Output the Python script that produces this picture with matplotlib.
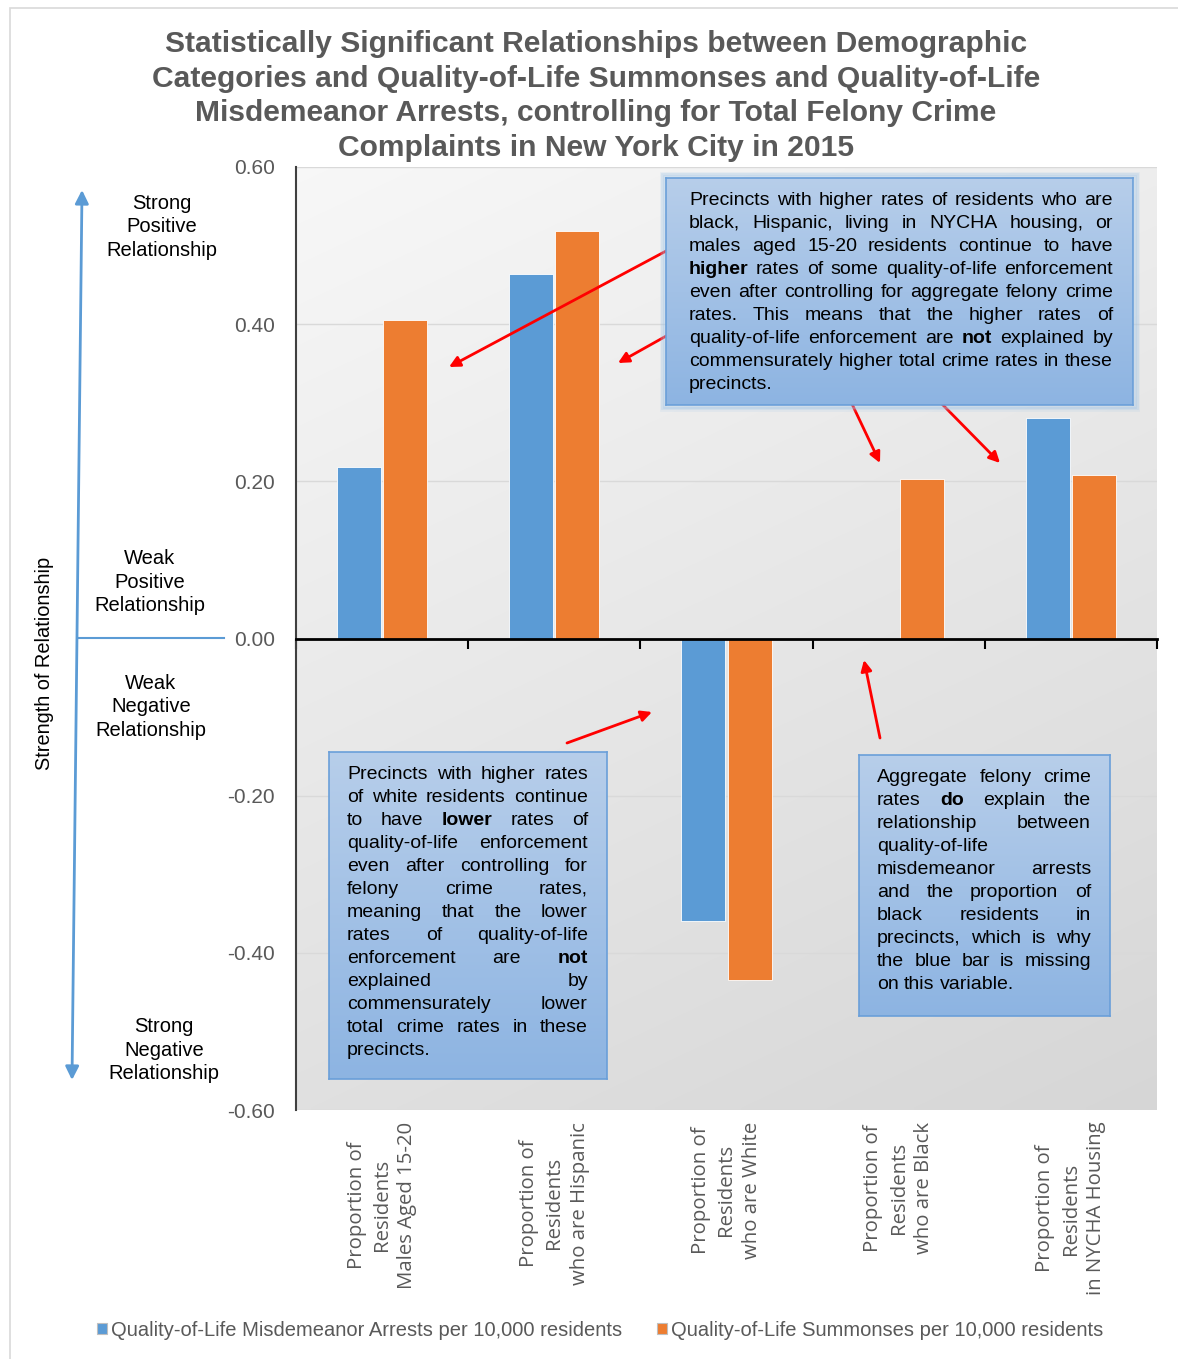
import numpy as np
import matplotlib
matplotlib.use("Agg")
import matplotlib.pyplot as plt
from matplotlib.patches import Rectangle

# ---------------- data ----------------
categories = [
    "Proportion of\nResidents\nMales Aged 15-20",
    "Proportion of\nResidents\nwho are Hispanic",
    "Proportion of\nResidents\nwho are White",
    "Proportion of\nResidents\nwho are Black",
    "Proportion of\nResidents\nin NYCHA Housing",
]
arrests = [0.218, 0.464, -0.359, np.nan, 0.280]
summonses = [0.405, 0.518, -0.434, 0.203, 0.208]
series_names = ["Quality-of-Life Misdemeanor Arrests per 10,000 residents",
                "Quality-of-Life Summonses per 10,000 residents"]
yticks = [-0.6, -0.4, -0.2, 0.0, 0.2, 0.4, 0.6]
title = ("Statistically Significant Relationships between Demographic\n"
         "Categories and Quality-of-Life Summonses and Quality-of-Life\n"
         "Misdemeanor Arrests, controlling for Total Felony Crime\n"
         "Complaints in New York City in 2015")

box1_lines = [
    "Precincts with higher rates of residents who are",
    "black, Hispanic, living in NYCHA housing, or",
    "males aged 15-20 residents continue to have",
    "**higher** rates of some quality-of-life enforcement",
    "even after controlling for aggregate felony crime",
    "rates. This means that the higher rates of",
    "quality-of-life enforcement are **not** explained by",
    "commensurately higher total crime rates in these",
    "precincts.",
]
box2_lines = [
    "Precincts with higher rates",
    "of white residents continue",
    "to have **lower** rates of",
    "quality-of-life enforcement",
    "even after controlling for",
    "felony crime rates,",
    "meaning that the lower",
    "rates of quality-of-life",
    "enforcement are **not**",
    "explained by",
    "commensurately lower",
    "total crime rates in these",
    "precincts.",
]
box3_lines = [
    "Aggregate felony crime",
    "rates **do** explain the",
    "relationship between",
    "quality-of-life",
    "misdemeanor arrests",
    "and the proportion of",
    "black residents in",
    "precincts, which is why",
    "the blue bar is missing",
    "on this variable.",
]

# ---------------- figure ----------------
W, H = 1178, 1359
fig = plt.figure(figsize=(W / 100, H / 100), dpi=100)
plt.rcParams['font.family'] = ['Liberation Sans', 'DejaVu Sans']

def fx(px):
    return px / W

def fy(py):
    return 1 - py / H

GRAY = "#595959"
BLUE = "#5b9bd5"
ORANGE = "#ed7d31"

# outer frame
fig.patches.append(Rectangle((fx(10), -0.01), 1.0, fy(8) + 0.01, transform=fig.transFigure,
                             fill=False, edgecolor="#d9d9d9", lw=1.2, zorder=0))

ax = fig.add_axes([fx(296), fy(1110), fx(1157) - fx(296), fy(167) - fy(1110)])
ax.set_zorder(1)

# gradient background (light at top, darker towards bottom-right)
ny, nx = 200, 200
yy, xx = np.mgrid[0:1:ny * 1j, 0:1:nx * 1j]
grad = 0.97 - 0.13 * (0.7 * yy + 0.3 * xx)
ax.imshow(np.dstack([grad, grad, grad]), extent=[-0.5, 4.5, -0.6, 0.6], origin="upper",
          aspect="auto", zorder=0, interpolation="bilinear")

x = np.arange(len(categories))
w = 0.256
ax.bar(x - w / 2 - 0.006, arrests, w, color=BLUE, edgecolor="white", linewidth=0.6, zorder=3,
       label=series_names[0])
ax.bar(x + w / 2 + 0.006, summonses, w, color=ORANGE, edgecolor="white", linewidth=0.6, zorder=3,
       label=series_names[1])

ax.set_xlim(-0.5, 4.5)
ax.set_ylim(-0.6, 0.6)
ax.set_yticks(yticks)
ax.set_yticklabels([f"{v:.2f}" for v in yticks], color=GRAY, fontsize=15)
ax.tick_params(axis="y", length=0, pad=15)
ax.grid(axis="y", color="#d9d9d9", lw=1, zorder=1)
ax.set_axisbelow(True)
for s in ["top", "right"]:
    ax.spines[s].set_visible(False)
ax.spines["left"].set_color("#404040")
ax.spines["left"].set_linewidth(1.5)
ax.spines["bottom"].set_position(("data", 0))
ax.spines["bottom"].set_color("black")
ax.spines["bottom"].set_linewidth(2)
ax.spines["bottom"].set_zorder(4)
ax.set_xticks(np.arange(-0.5, 5.0, 1.0))
ax.set_xticklabels([])
ax.tick_params(axis="x", direction="out", length=7, width=1.5, color="black")

for i, lab in enumerate(categories):
    ax.text(i, -0.615, lab, rotation=90, ha="center", va="top", multialignment="center",
            fontsize=14.7, color=GRAY, family=["Open Sans", "DejaVu Sans"], linespacing=1.36)

# legend
leg = fig.legend(loc="center", bbox_to_anchor=(fx(600), fy(1330)), ncol=2, frameon=False,
                 handlelength=0.5, handleheight=0.5, handletextpad=0.2, columnspacing=1.7,
                 fontsize=14.5)
for t in leg.get_texts():
    t.set_color(GRAY)
for hnd in leg.legend_handles:
    hnd.set_edgecolor("#bfbfbf")
    hnd.set_linewidth(0.8)

# title
fig.text(fx(596), fy(96), title, ha="center", va="center", fontsize=21.6, fontweight="bold",
         color=GRAY, linespacing=1.3)

# y label and left annotations
fig.text(fx(45), fy(663), "Strength of Relationship", rotation=90, ha="center", va="center",
         fontsize=14.4, color="black")
for txt, cx, cy in [("Strong\nPositive\nRelationship", 162, 227),
                    ("Weak\nPositive\nRelationship", 150, 582),
                    ("Weak\nNegative\nRelationship", 151, 707),
                    ("Strong\nNegative\nRelationship", 164, 1050)]:
    fig.text(fx(cx), fy(cy), txt, ha="center", va="center", fontsize=14.5, color="black",
             linespacing=1.31)

def fig_arrow(x0, y0, x1, y1, color, style="-|>", lw=2, ms=18, z=2):
    fig.add_artist(matplotlib.patches.FancyArrowPatch(
        (fx(x0), fy(y0)), (fx(x1), fy(y1)), transform=fig.transFigure,
        arrowstyle=style, color=color, lw=lw, mutation_scale=ms, zorder=z,
        shrinkA=0, shrinkB=0))

# blue strength arrow
fig_arrow(82, 190, 72, 1080, BLUE, style="<|-|>", lw=2, ms=20)
fig.add_artist(matplotlib.lines.Line2D([fx(78), fx(224)], [fy(638), fy(638)], color=BLUE, lw=1.5,
                                       transform=fig.transFigure))

# red arrows
for (a, b, c, d) in [(668, 250, 449, 367), (668, 335, 618, 363), (852, 404, 880, 463),
                     (940, 402, 1000, 463), (567, 743, 652, 712), (880, 738, 864, 660)]:
    fig_arrow(a, b, c, d, "red", lw=2, ms=16, z=2)

# text boxes
def make_box(x0, y0, x1, y1, glow=False):
    if glow:
        for k, a in [(5, 0.15), (3.5, 0.25), (2, 0.4)]:
            fig.patches.append(Rectangle((fx(x0 - k), fy(y1 + k)), fx(x1 - x0 + 2 * k),
                                         (y1 - y0 + 2 * k) / H,
                                         transform=fig.transFigure, fill=False,
                                         edgecolor="#9dc3e6", lw=2, alpha=a, zorder=2.8))
    bax = fig.add_axes([fx(x0), fy(y1), fx(x1) - fx(x0), fy(y0) - fy(y1)])
    bax.set_zorder(3)
    g = np.linspace(0, 1, 100)[:, None]
    top = np.array([0.718, 0.808, 0.918])
    bot = np.array([0.553, 0.706, 0.886])
    img = top[None, None, :] * (1 - g[..., None]) + bot[None, None, :] * g[..., None]
    img = np.repeat(img, 2, axis=1)
    bax.imshow(img, extent=[0, 1, 0, 1], aspect="auto", interpolation="bilinear")
    bax.set_xticks([])
    bax.set_yticks([])
    for s in bax.spines.values():
        s.set_color("#6a9fd9")
        s.set_linewidth(1.2)

make_box(666, 178, 1133, 405, glow=True)
make_box(329, 752, 607, 1079)
make_box(859, 755, 1110, 1016)

renderer = fig.canvas.get_renderer()
FS = 14

def parse(line):
    out = []
    for wd in line.split():
        if wd.startswith("**") and wd.endswith("**"):
            out.append((wd[2:-2], True))
        else:
            out.append((wd, False))
    return out

def justified(lines, x0, x1, y_first, dy, fs=FS):
    space = 0.278 * fs * 100 / 72
    for i, line in enumerate(lines):
        words = parse(line)
        base = y_first + i * dy + 6
        texts = []
        widths = []
        for wd, bold in words:
            t = fig.text(0, fy(base), wd, fontsize=fs, fontweight="bold" if bold else "normal",
                         color="black", va="baseline", ha="left", zorder=5)
            texts.append(t)
            widths.append(t.get_window_extent(renderer).width)
        total = sum(widths)
        last = i == len(lines) - 1
        if len(words) > 1 and not last:
            gap = (x1 - x0 - total) / (len(words) - 1)
        else:
            gap = space
        cur = x0
        for t, wdt in zip(texts, widths):
            t.set_x(fx(cur))
            cur += wdt + gap

justified(box1_lines, 689, 1113, 199, 23)
justified(box2_lines, 347, 588, 773, 23)
justified(box3_lines, 877, 1091, 776, 23)

fig.savefig("out.png", dpi=100)
